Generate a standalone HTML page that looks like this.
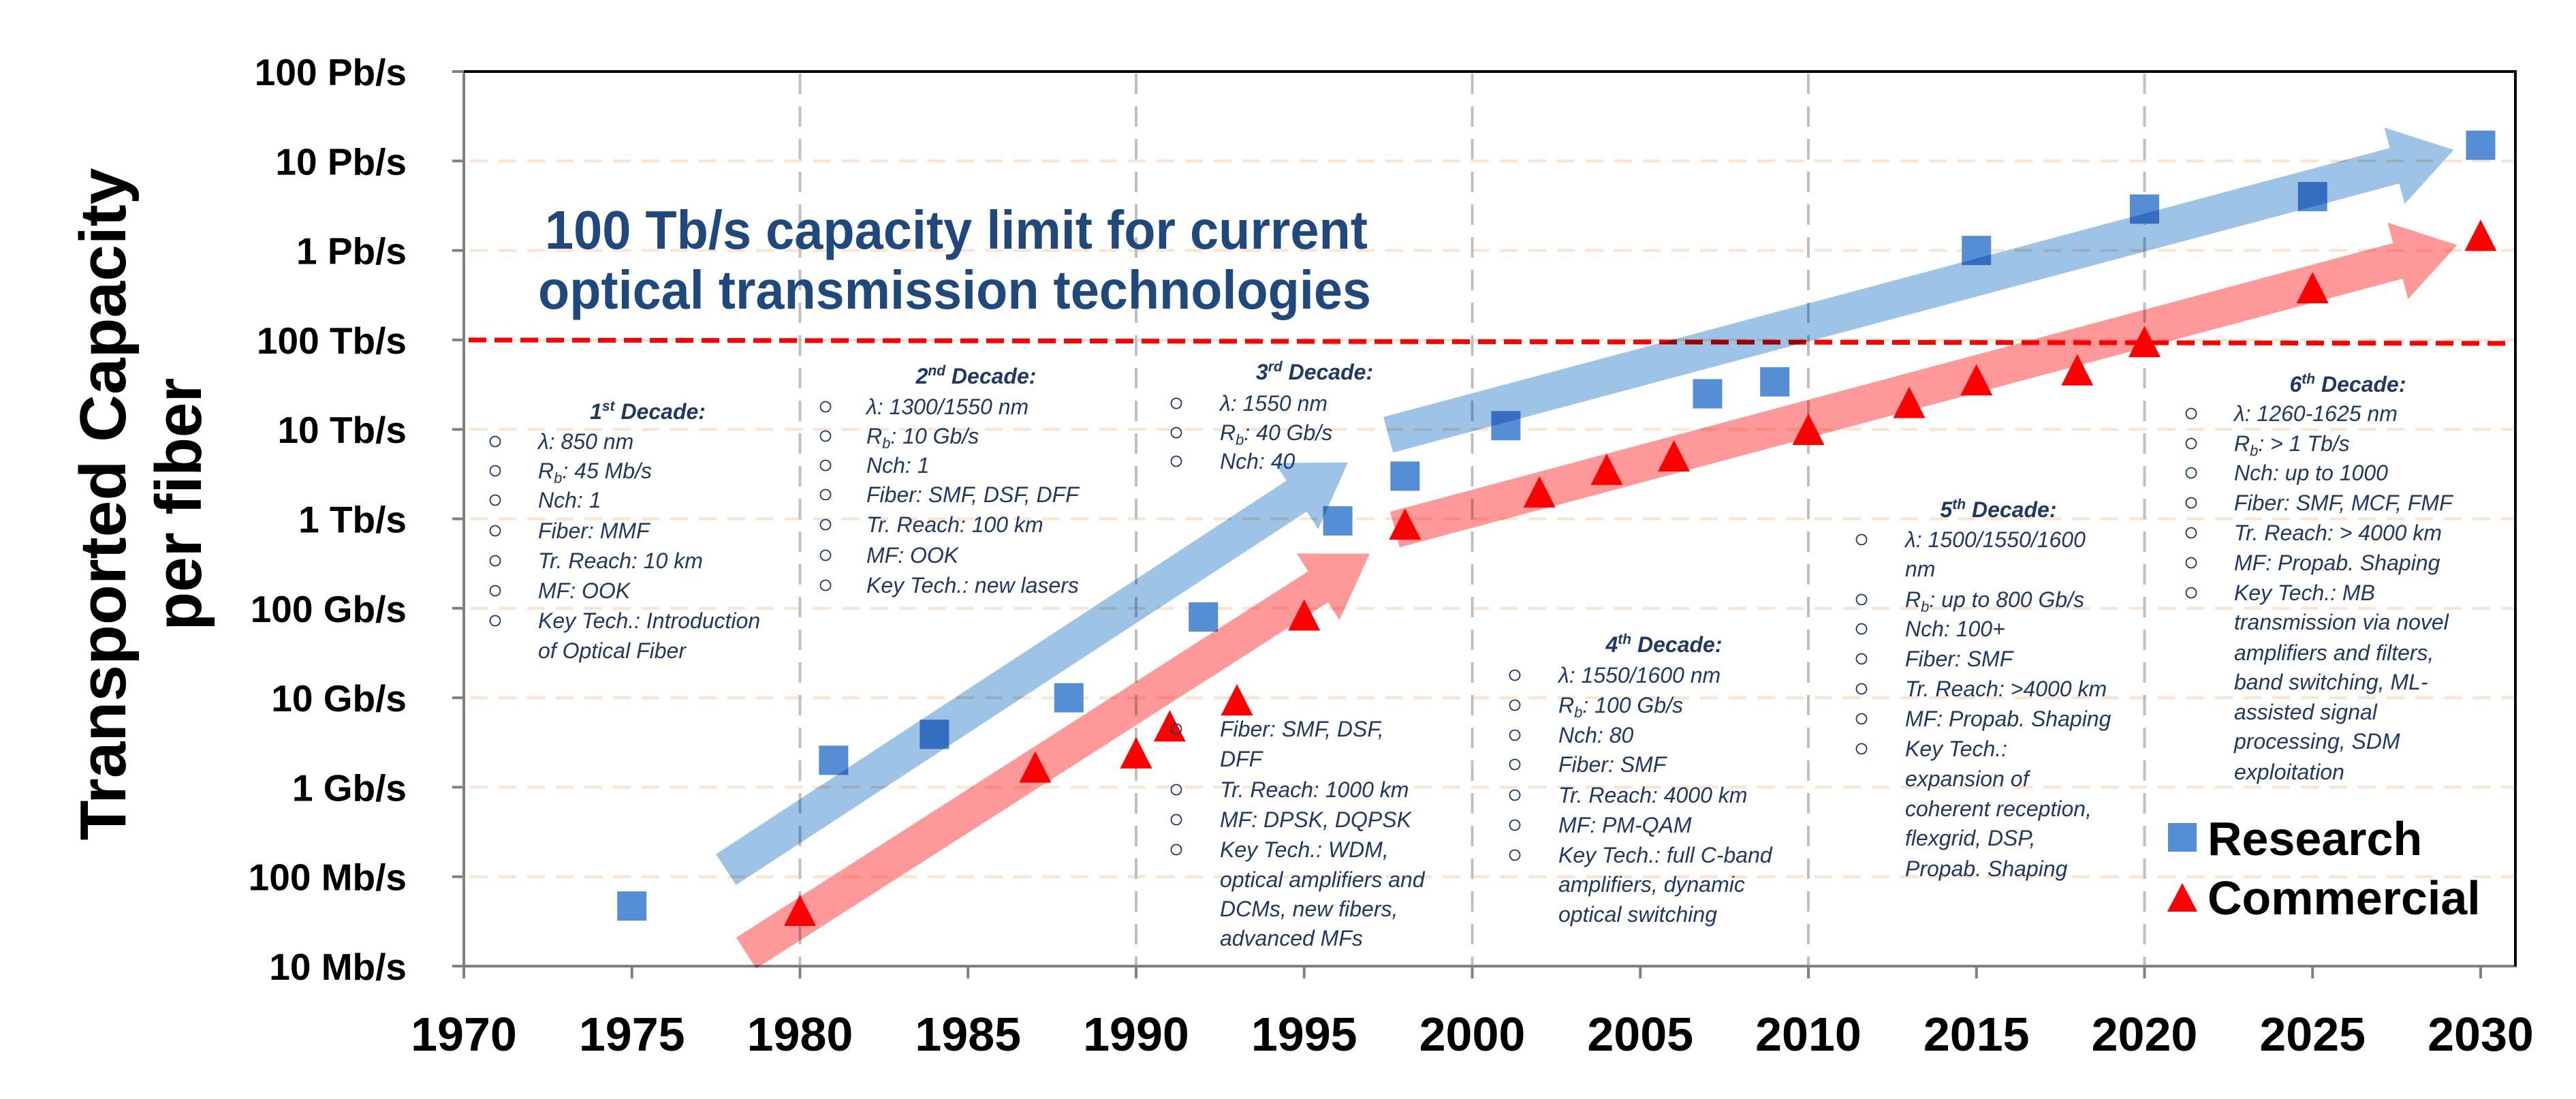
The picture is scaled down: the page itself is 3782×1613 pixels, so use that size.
<!DOCTYPE html>
<html><head><meta charset="utf-8"><title>Transported Capacity per fiber</title>
<style>
html,body{margin:0;padding:0;background:#fff;}
svg{display:block;}
.tick{font-family:"Liberation Sans",sans-serif;font-weight:bold;fill:#000;}
.ann{font-family:"Liberation Sans",sans-serif;font-style:italic;font-size:32px;fill:#1f3864;}
.hd{font-family:"Liberation Sans",sans-serif;font-style:italic;font-weight:bold;font-size:32px;fill:#1f3864;}
.bul{fill:none;stroke:#1f3864;stroke-width:1.8;}
.arrow{mix-blend-mode:multiply;}
</style></head>
<body>
<svg id="chart" width="3782" height="1613" viewBox="0 0 3782 1613" xmlns="http://www.w3.org/2000/svg">
<g id="grid"></g>
<g id="axes"></g>
<line x1="688" y1="499" x2="3690" y2="504" stroke="#ff0000" stroke-width="7" stroke-dasharray="26,12"/>
<g id="markers"></g>
<g id="arrows"></g>

<text class="tick" font-size="96" text-anchor="middle" textLength="987" lengthAdjust="spacingAndGlyphs" transform="translate(184,740) rotate(-90)">Transported Capacity</text>
<text class="tick" font-size="96" text-anchor="middle" textLength="371" lengthAdjust="spacingAndGlyphs" transform="translate(295,740) rotate(-90)">per fiber</text>

<g font-family="Liberation Sans, sans-serif" font-weight="bold" font-size="80" fill="#1f497d">
<text x="800" y="365" textLength="1208" lengthAdjust="spacingAndGlyphs">100 Tb/s capacity limit for current</text>
<text x="790" y="453" textLength="1223" lengthAdjust="spacingAndGlyphs">optical transmission technologies</text>
</g>

<g id="notes"></g>

<g>
<rect x="3183" y="1208" width="42" height="42" fill="#558ed5"/>
<text class="tick" font-size="70" x="3241" y="1255">Research</text>
<polygon points="3204,1296 3182,1338 3226,1338" fill="#ff0000"/>
<text class="tick" font-size="70" x="3241" y="1342">Commercial</text>
</g>
</svg>
<script>
// ---- data ----
const researchYears = [1975,1981,1984,1988,1992,1996,1998,2001,2007,2009,2015,2020,2025,2030];
const researchGbps  = [0.047,2,3.9,10,80,950,3000,11000,25000,34000,1000000,2900000,4000000,15000000];
const commercialYears = [1980,1987,1990,1991,1993,1995,1998,2002,2004,2006,2010,2013,2015,2018,2020,2025,2030];
const commercialGbps  = [0.04,1.6,2.3,4.6,9,80,830,1900,3400,4800,9500,19000,34000,44000,91000,365000,1400000];
const yTickLabels = ["10 Mb/s","100 Mb/s","1 Gb/s","10 Gb/s","100 Gb/s","1 Tb/s","10 Tb/s","100 Tb/s","1 Pb/s","10 Pb/s","100 Pb/s"];
const xTickYears = [1970,1975,1980,1985,1990,1995,2000,2005,2010,2015,2020,2025,2030];
const decadeLineYears = [1980,1990,2000,2010,2020];
const arrowTailYears = [1977.8,1997.5,1978.4,1997.7];
const arrowTailGbps  = [0.12,8710,0.014,759];
const arrowTipYears  = [1996.3,2029.2,1996.95,2029.3];
const arrowTipGbps   = [4266,13300000,407,1150000];
const arrowColors = ["#9dc3e6","#9dc3e6","#ff9999","#ff9999"];

// ---- scales ----
const X0=681, XPER=49.35, YB=1418, YDEC=131.3;
function xs(yr){return X0+(yr-1970)*XPER;}
function ys(g){return YB-(Math.log10(g)+2)*YDEC;}
const NS="http://www.w3.org/2000/svg";
function mk(tag,attrs,parent){const e=document.createElementNS(NS,tag);for(const k in attrs)e.setAttribute(k,attrs[k]);parent.appendChild(e);return e;}

const grid=document.getElementById('grid'), axes=document.getElementById('axes');
// horizontal gridlines
yTickLabels.forEach((lab,i)=>{
  const y=YB-i*YDEC;
  if(i>0&&i<10){
    const l=mk('line',{x1:690,x2:3690,y1:y,y2:y,stroke:'#fde3cf','stroke-width':4,'stroke-dasharray':'26,16'},grid);
    
    
  }
  const t=mk('line',{x1:664,x2:681,y1:y,y2:y,stroke:'#808080','stroke-width':4},axes);
  
  
  const tx=mk('text',{x:597,y:y+20,'text-anchor':'end','font-size':55,class:'tick'},axes);
  tx.textContent=lab;
  
  
});
decadeLineYears.forEach(yr=>{
  const l=mk('line',{x1:xs(yr),x2:xs(yr),y1:108,y2:1418,stroke:'#bfbfbf','stroke-width':4,'stroke-dasharray':'30,18'},grid);
  
  
});
// axes
let a=mk('line',{x1:681,x2:681,y1:104,y2:1420,stroke:'#808080','stroke-width':4},axes);


a=mk('line',{x1:679,x2:3695,y1:1418,y2:1418,stroke:'#808080','stroke-width':4},axes);


a=mk('polyline',{points:'681,105 3693,105 3693,1418',fill:'none',stroke:'#000','stroke-width':4},axes);


xTickYears.forEach(yr=>{
  const x=xs(yr);
  const t=mk('line',{x1:x,x2:x,y1:1418,y2:1436,stroke:'#808080','stroke-width':4},axes);
  
  
  const tx=mk('text',{x:x,y:1542,'text-anchor':'middle','font-size':70,class:'tick'},axes);
  tx.textContent=yr;
  
  
});

// markers
const markers=document.getElementById('markers');
researchYears.forEach((yr,i)=>{
  const x=xs(yr), y=ys(researchGbps[i]);
  const r=mk('rect',{x:x-21.5,y:y-21.5,width:43,height:43,fill:'#558ed5'},markers);
  
  
});
commercialYears.forEach((yr,i)=>{
  const x=xs(yr), y=ys(commercialGbps[i]);
  const p=mk('polygon',{points:`${x},${y-26} ${x-23.5},${y+20} ${x+23.5},${y+20}`,fill:'#ff0000'},markers);
  
  
});

// arrows
const arrows=document.getElementById('arrows');
arrowTailYears.forEach((ty,i)=>{
  const x1=xs(ty), y1=ys(arrowTailGbps[i]), x2=xs(arrowTipYears[i]), y2=ys(arrowTipGbps[i]);
  const dx=x2-x1, dy=y2-y1, L=Math.hypot(dx,dy), ux=dx/L, uy=dy/L, nx=-uy, ny=ux;
  const sw=27, hw=58, hl=90;
  const bx=x2-ux*hl, by=y2-uy*hl;
  const pts=[[x1+nx*sw,y1+ny*sw],[bx+nx*sw,by+ny*sw],[bx+nx*hw,by+ny*hw],[x2,y2],[bx-nx*hw,by-ny*hw],[bx-nx*sw,by-ny*sw],[x1-nx*sw,y1-ny*sw]];
  const p=mk('polygon',{points:pts.map(q=>q[0].toFixed(1)+','+q[1].toFixed(1)).join(' '),fill:arrowColors[i],class:'arrow'},arrows);
  
  
});

// decade notes
const notes=document.getElementById('notes');
function note(head,hx,hy,bx,tx,lines){
  const g=mk('g',{},notes);
  
  
  const h=mk('text',{x:hx,y:hy+11,'text-anchor':'middle',class:'hd'},g);
  h.innerHTML=head;
  lines.forEach(l=>{
    const [y,txt,b]=l;
    if(b){const c=mk('circle',{cx:bx,cy:y,r:7.5,class:'bul'},g);}
    const t=mk('text',{x:tx,y:y+11,class:'ann'},g);
    t.innerHTML=txt;
  });
}
const sub='R<tspan font-size="22" baseline-shift="-7">b</tspan><tspan>: ';
function s(n,sp){return n+'<tspan font-size="21" baseline-shift="12">'+sp+'</tspan> Decade:';}
note(s('1','st'),951,604,727,790,[[648,'λ: 850 nm',1],[691,sub+'45 Mb/s</tspan>',1],[734,'Nch: 1',1],[779,'Fiber: MMF',1],[823,'Tr. Reach: 10 km',1],[867,'MF: OOK',1],[911,'Key Tech.: Introduction',1],[955,'of Optical Fiber',0]]);
note(s('2','nd'),1433,552,1212,1272,[[597,'λ: 1300/1550 nm',1],[640,sub+'10 Gb/s</tspan>',1],[683,'Nch: 1',1],[726,'Fiber: SMF, DSF, DFF',1],[770,'Tr. Reach: 100 km',1],[815,'MF: OOK',1],[859,'Key Tech.: new lasers',1]]);
note(s('3','rd'),1930,546,1727,1791,[[592,'λ: 1550 nm',1],[635,sub+'40 Gb/s</tspan>',1],[677,'Nch: 40',1],[1070,'Fiber: SMF, DSF,',1],[1114,'DFF',0],[1159,'Tr. Reach: 1000 km',1],[1203,'MF: DPSK, DQPSK',1],[1247,'Key Tech.: WDM,',1],[1291,'optical amplifiers and',0],[1334,'DCMs, new fibers,',0],[1377,'advanced MFs',0]]);
note(s('4','th'),2443,946,2224,2288,[[991,'λ: 1550/1600 nm',1],[1035,sub+'100 Gb/s</tspan>',1],[1079,'Nch: 80',1],[1122,'Fiber: SMF',1],[1167,'Tr. Reach: 4000 km',1],[1211,'MF: PM-QAM',1],[1255,'Key Tech.: full C-band',1],[1298,'amplifiers, dynamic',0],[1342,'optical switching',0]]);
note(s('5','th'),2934,748,2733,2797,[[792,'λ: 1500/1550/1600',1],[835,'nm',0],[880,sub+'up to 800 Gb/s</tspan>',1],[923,'Nch: 100+',1],[967,'Fiber: SMF',1],[1011,'Tr. Reach: >4000 km',1],[1055,'MF: Propab. Shaping',1],[1099,'Key Tech.:',1],[1143,'expansion of',0],[1187,'coherent reception,',0],[1230,'flexgrid, DSP,',0],[1275,'Propab. Shaping',0]]);
note(s('6','th'),3447,564,3217,3280,[[607,'λ: 1260-1625 nm',1],[651,sub+'&gt; 1 Tb/s</tspan>',1],[694,'Nch: up to 1000',1],[738,'Fiber: SMF, MCF, FMF',1],[782,'Tr. Reach: &gt; 4000 km',1],[826,'MF: Propab. Shaping',1],[870,'Key Tech.: MB',1],[913,'transmission via novel',0],[958,'amplifiers and filters,',0],[1001,'band switching, ML-',0],[1045,'assisted signal',0],[1088,'processing, SDM',0],[1133,'exploitation',0]]);
</script>
</body></html>
